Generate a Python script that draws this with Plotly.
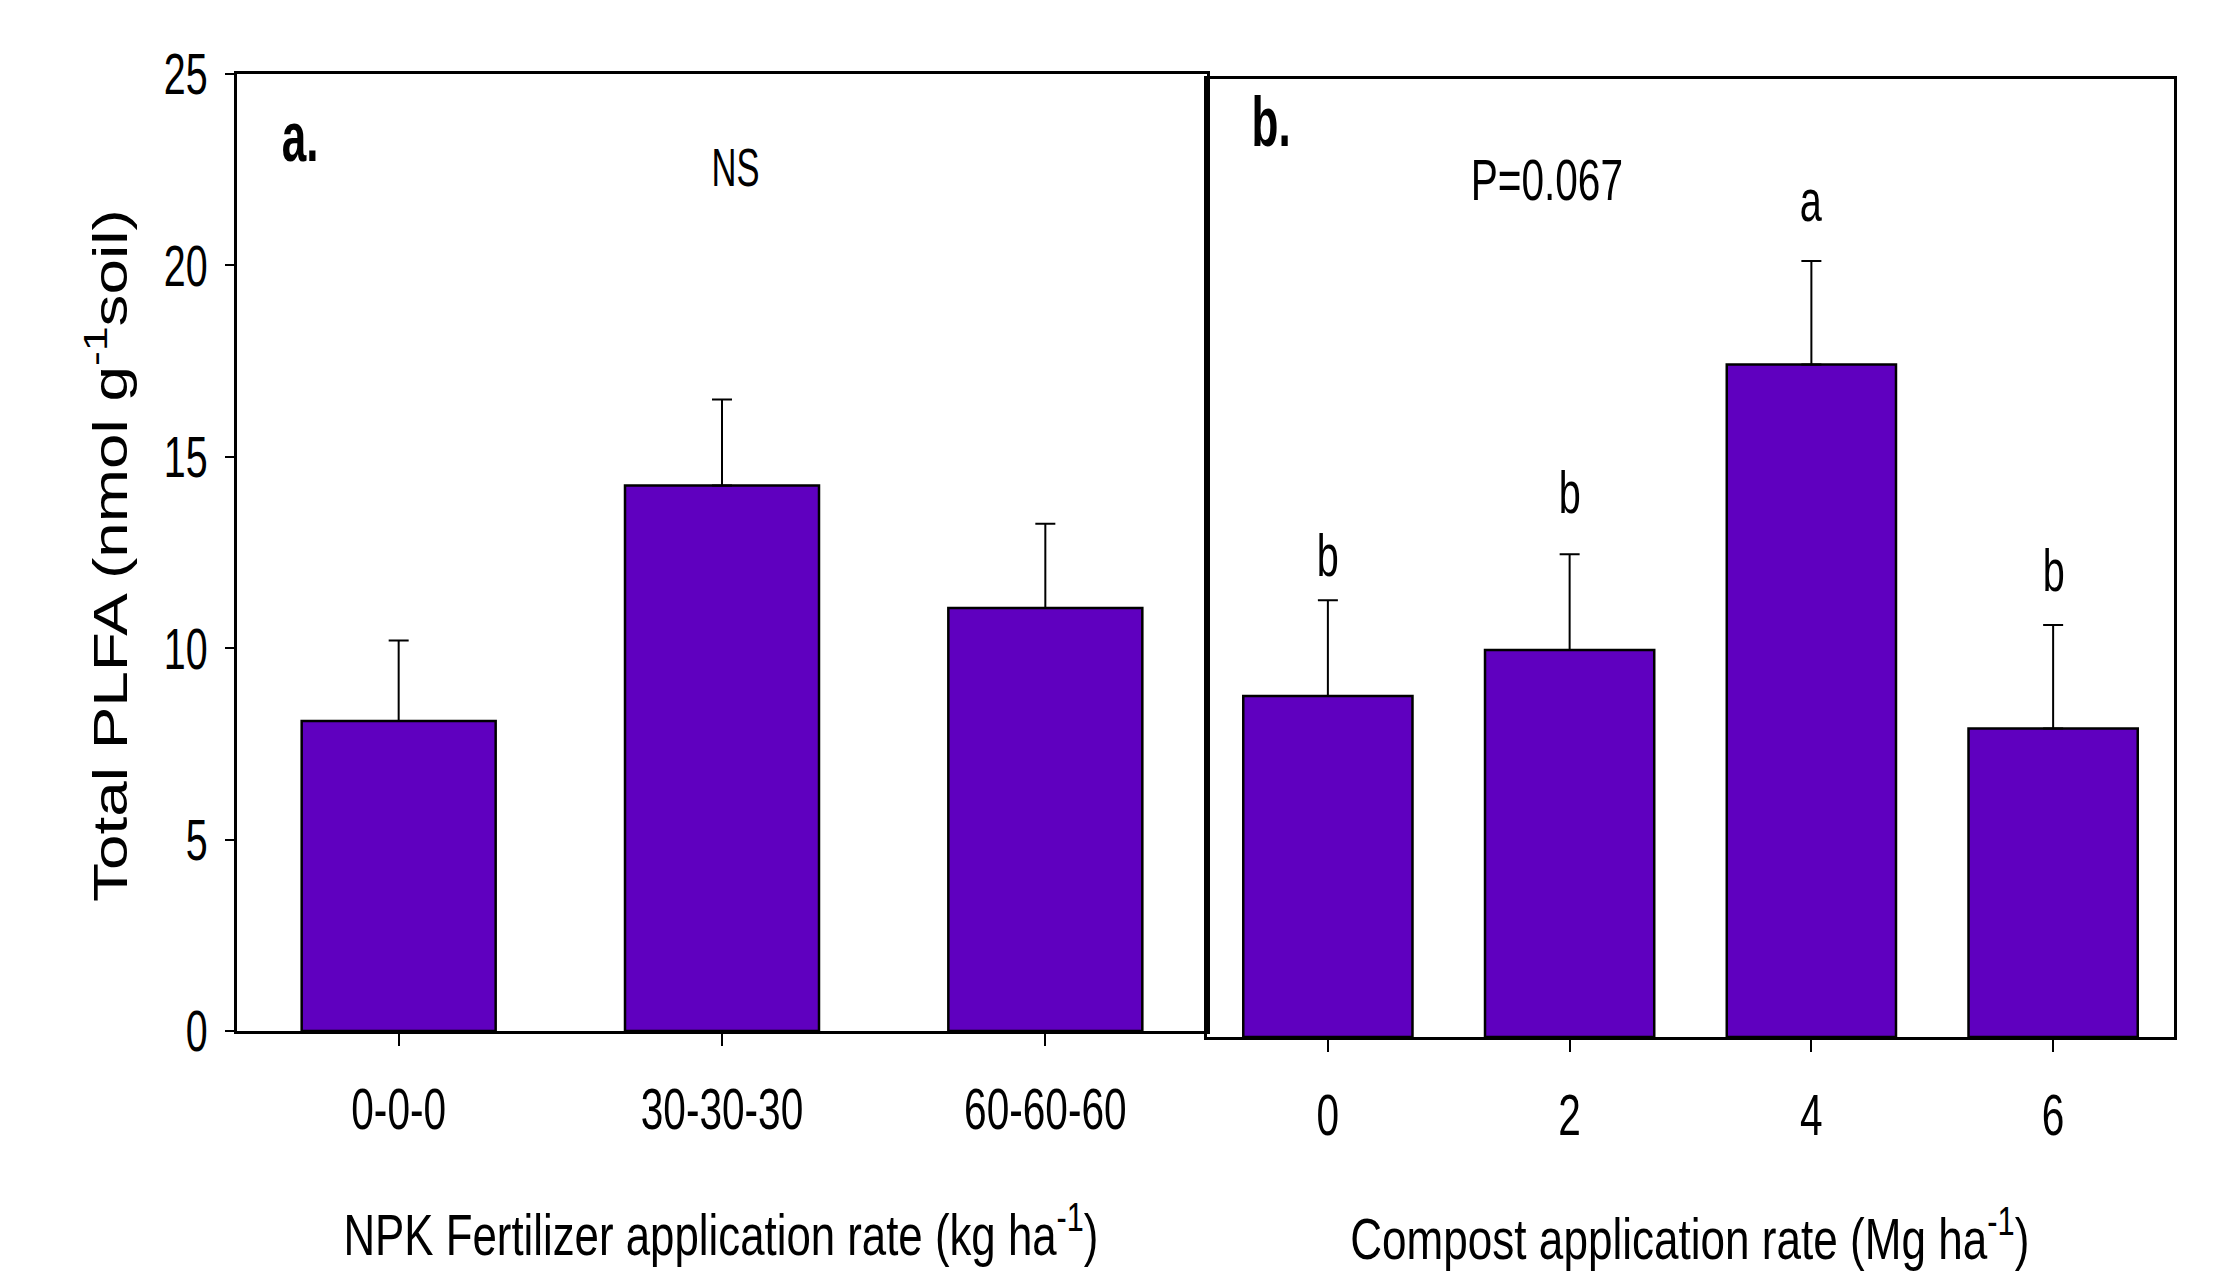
import json
import plotly.graph_objects as go

W, H = 2231, 1275

# ---- data ----
npk_labels = ["0-0-0", "30-30-30", "60-60-60"]
npk_mean = [8.1, 14.25, 11.05]
npk_err = [2.1, 2.25, 2.2]

compost_labels = ["0", "2", "4", "6"]
compost_mean = [8.9, 10.1, 17.55, 8.05]
compost_err = [2.5, 2.5, 2.7, 2.7]
compost_letters = ["b", "b", "a", "b"]

y_ticks = [0, 5, 10, 15, 20, 25]

BAR = "#5f00bf"
FONT = "Liberation Sans, Arial, sans-serif"
letter_shift = [9, 26, 25, 19]  # pixel gap above each error bar


def px(x):
    return x / W


def py(y):
    return 1 - y / H


fig = go.Figure()

fig.add_trace(go.Bar(
    x=npk_labels, y=npk_mean, width=0.6,
    marker=dict(color=BAR, line=dict(color="black", width=2.5)),
    error_y=dict(type="data", array=npk_err, arrayminus=[0] * len(npk_err),
                 symmetric=False, color="black", thickness=2, width=10),
    xaxis="x", yaxis="y", showlegend=False,
))

fig.add_trace(go.Bar(
    x=compost_labels, y=compost_mean, width=0.7,
    marker=dict(color=BAR, line=dict(color="black", width=2.5)),
    error_y=dict(type="data", array=compost_err, arrayminus=[0] * len(compost_err),
                 symmetric=False, color="black", thickness=2, width=10),
    xaxis="x2", yaxis="y2", showlegend=False,
))

axis_common = dict(showgrid=False, zeroline=False, showline=True,
                   linecolor="black", linewidth=2.5, mirror=True, automargin=False)
tickfont = dict(family=FONT, size=58, color="black")

fig.update_layout(
    width=W, height=H,
    margin=dict(l=0, r=0, t=0, b=0, pad=0, autoexpand=False),
    showlegend=False,
    paper_bgcolor="white", plot_bgcolor="white",
    xaxis=dict(domain=[px(237), px(1207)], anchor="y", type="category",
               range=[-0.5, len(npk_labels) - 0.5],
               ticks="outside", ticklen=12, tickwidth=2, tickcolor="black",
               tickfont=tickfont, ticklabelstandoff=14, **axis_common),
    yaxis=dict(domain=[py(1031), py(74)], anchor="x", range=[0, 25],
               tickvals=y_ticks, ticks="outside", ticklen=9, tickwidth=2,
               tickcolor="black", tickfont=tickfont,
               ticklabelstandoff=6, **axis_common),
    xaxis2=dict(domain=[px(1207), px(2174)], anchor="y2", type="category",
                range=[-0.5, len(compost_labels) - 0.5],
                ticks="outside", ticklen=12, tickwidth=2, tickcolor="black",
                tickfont=tickfont, ticklabelstandoff=14, **axis_common),
    yaxis2=dict(domain=[py(1037), py(79)], anchor="x2", range=[0, 25],
                showticklabels=False, ticks="", **axis_common),
)

ann = []
squeeze = {}


def add(f, **kw):
    kw.setdefault("xanchor", "center")
    kw.setdefault("yanchor", "middle")
    kw.setdefault("showarrow", False)
    squeeze[str(len(ann))] = f
    ann.append(kw)


# y-axis title (wide face)
add(1.33, text="Total PLFA (nmol g<sup>-1</sup>soil)", x=px(107), y=py(556),
    xref="paper", yref="paper", textangle=-90,
    font=dict(family=FONT, size=48, color="black"))

# panel labels and stats text
add(0.63, text="<b>a.</b>", x=px(300), y=py(137), xref="paper", yref="paper",
    font=dict(family=FONT, size=70, color="black"))
add(0.64, text="NS", x=px(735), y=py(167), xref="paper", yref="paper",
    font=dict(family=FONT, size=54, color="black"))
add(0.63, text="<b>b.</b>", x=px(1271), y=py(122), xref="paper", yref="paper",
    font=dict(family=FONT, size=70, color="black"))
add(0.70, text="P=0.067", x=px(1547), y=py(180), xref="paper", yref="paper",
    font=dict(family=FONT, size=58, color="black"))

# significance letters
for i, (m, e, L, s) in enumerate(zip(compost_mean, compost_err, compost_letters, letter_shift)):
    add(0.66, text=L, x=i, y=m + e, xref="x2", yref="y2", yanchor="bottom",
        yshift=s, font=dict(family=FONT, size=60, color="black"))

# x-axis titles
add(0.755, text="NPK Fertilizer application rate (kg ha<sup>-1</sup>)",
    x=px(721), y=py(1230), xref="paper", yref="paper",
    font=dict(family=FONT, size=58, color="black"))
add(0.76, text="Compost application rate (Mg ha<sup>-1</sup>)",
    x=px(1690), y=py(1234), xref="paper", yref="paper",
    font=dict(family=FONT, size=58, color="black"))

fig.update_layout(annotations=ann)

post = """
var gd = document.getElementById('{plot_id}');
var fac = %s;
function sq(t, f) {
  var L = t.getComputedTextLength();
  if (L > 0) {
    t.setAttribute('textLength', L * f);
    t.setAttribute('lengthAdjust', 'spacingAndGlyphs');
  }
}
gd.querySelectorAll('.xtick text, .x2tick text').forEach(function (t) { sq(t, 0.70); });
gd.querySelectorAll('.ytick text').forEach(function (t) { sq(t, 0.68); });
gd.querySelectorAll('g.annotation').forEach(function (g) {
  var i = g.getAttribute('data-index');
  var t = g.querySelector('text.annotation-text');
  if (t && fac[i]) { sq(t, fac[i]); }
});
""" % json.dumps(squeeze)

fig.write_html("out.html", post_script=post)
